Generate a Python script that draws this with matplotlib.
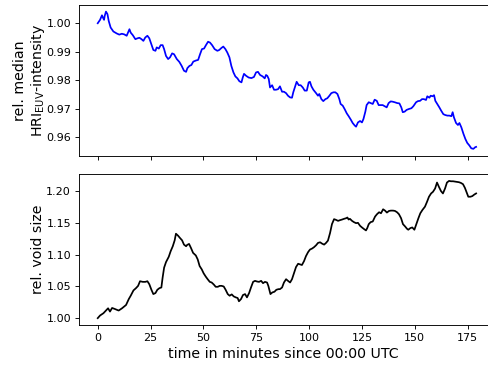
import matplotlib
matplotlib.use("Agg")
import matplotlib.pyplot as plt
from matplotlib.ticker import MultipleLocator

# Relative median HRI_EUV intensity (minutes since 00:00 UTC, value)
t_int = [0, 1.1, 2.0, 2.7, 3.0, 3.3, 3.9, 4.6, 5.2, 6.1, 7.4, 9.0, 10.2, 11.4, 12.5,
         13.7, 14.3, 15.0, 15.6, 16.6, 17.8, 18.8, 19.7, 20.7, 21.6, 22.5, 23.5, 24.4,
         25.4, 26.3, 27.3, 27.9, 28.9, 29.8, 30.7, 31.4, 32.3, 33.3, 34.2, 35.2, 36.1,
         37.4, 38.6, 39.7, 40.8, 41.8, 42.4, 43.4, 44.3, 45.2, 46.5, 47.5, 48.4, 49.3,
         50.3, 51.2, 52.2, 53.1, 54.1, 55.3, 56.6, 57.5, 58.5, 59.4, 60.4, 61.3, 62.3,
         63.2, 64.2, 65.1, 66.1, 67.0, 68.0, 68.6, 69.2, 70.2, 71.4, 72.7, 73.9, 74.9,
         75.8, 76.8, 78.0, 79.0, 79.6, 80.2, 80.9, 81.5, 82.5, 83.4, 84.3, 85.3, 86.2,
         87.2, 88.1, 89.1, 90.0, 91.0, 91.9, 92.5, 93.5, 94.1, 95.1, 96.0, 97.0, 97.9,
         98.9, 99.8, 100.4, 101.1, 102.0, 103.3, 104.2, 104.8, 105.8, 106.7, 107.7,
         108.6, 109.6, 110.5, 111.5, 112.4, 113.4, 114.3, 114.9, 115.9, 116.8, 117.8,
         118.7, 119.7, 120.6, 121.6, 122.2, 123.1, 124.1, 125.0, 125.7, 126.6, 127.2,
         128.2, 129.1, 130.1, 131.0, 132.0, 132.9, 133.8, 134.8, 135.7, 136.7, 137.6,
         138.6, 139.5, 140.5, 141.7, 142.7, 143.6, 144.3, 145.2, 146.1, 147.1, 148.4,
         149.3, 150.6, 151.5, 152.5, 153.4, 154.3, 155.3, 155.9, 156.9, 157.5, 158.4,
         159.1, 159.7, 160.7, 161.6, 162.5, 163.5, 164.4, 165.4, 166.3, 167.3, 167.9,
         168.5, 169.5, 170.4, 171.1, 172.0, 173.0, 173.9, 174.8, 175.8, 176.7, 177.7,
         178.6, 179.0]
intensity = [1.0000, 1.0012, 1.0028, 1.0016, 1.0012, 1.0026, 1.0041, 1.0032, 1.0008,
             0.9985, 0.9971, 0.9964, 0.9960, 0.9963, 0.9961, 0.9956, 0.9967, 0.9979,
             0.9967, 0.9958, 0.9944, 0.9947, 0.9949, 0.9944, 0.9938, 0.9950, 0.9956,
             0.9947, 0.9926, 0.9906, 0.9903, 0.9915, 0.9911, 0.9923, 0.9923, 0.9909,
             0.9885, 0.9874, 0.9880, 0.9894, 0.9891, 0.9874, 0.9864, 0.9850, 0.9833,
             0.9829, 0.9842, 0.9850, 0.9853, 0.9865, 0.9869, 0.9871, 0.9891, 0.9909,
             0.9911, 0.9923, 0.9935, 0.9932, 0.9923, 0.9909, 0.9903, 0.9906, 0.9913,
             0.9918, 0.9909, 0.9897, 0.9880, 0.9850, 0.9827, 0.9813, 0.9806, 0.9796,
             0.9792, 0.9809, 0.9822, 0.9815, 0.9809, 0.9807, 0.9811, 0.9827, 0.9829,
             0.9818, 0.9813, 0.9806, 0.9818, 0.9815, 0.9804, 0.9774, 0.9782, 0.9766,
             0.9766, 0.9768, 0.9778, 0.9759, 0.9759, 0.9754, 0.9745, 0.9739, 0.9738,
             0.9757, 0.9780, 0.9794, 0.9782, 0.9782, 0.9774, 0.9763, 0.9763, 0.9792,
             0.9794, 0.9778, 0.9766, 0.9754, 0.9745, 0.9751, 0.9733, 0.9726, 0.9733,
             0.9736, 0.9745, 0.9754, 0.9757, 0.9757, 0.9751, 0.9733, 0.9716, 0.9710,
             0.9698, 0.9683, 0.9673, 0.9661, 0.9649, 0.9640, 0.9636, 0.9651, 0.9656,
             0.9651, 0.9663, 0.9689, 0.9712, 0.9722, 0.9719, 0.9716, 0.9731, 0.9727,
             0.9712, 0.9712, 0.9712, 0.9708, 0.9704, 0.9719, 0.9725, 0.9724, 0.9722,
             0.9719, 0.9718, 0.9704, 0.9687, 0.9689, 0.9695, 0.9698, 0.9701, 0.9708,
             0.9722, 0.9726, 0.9727, 0.9733, 0.9733, 0.9730, 0.9743, 0.9738, 0.9745,
             0.9743, 0.9747, 0.9727, 0.9715, 0.9704, 0.9692, 0.9680, 0.9677, 0.9675,
             0.9675, 0.9673, 0.9687, 0.9669, 0.9649, 0.9642, 0.9649, 0.9634, 0.9611,
             0.9593, 0.9579, 0.9570, 0.9560, 0.9558, 0.9564, 0.9565]

# Relative void size (minutes since 00:00 UTC, value)
t_void = [0, 1.1, 2.7, 3.9, 4.9, 5.8, 6.8, 8.0, 9.9, 11.5, 13.4, 14.7, 15.6, 16.9,
          18.1, 19.1, 20.0, 21.3, 22.5, 23.5, 24.4, 25.4, 26.3, 27.3, 28.2, 29.2,
          30.1, 30.7, 31.4, 32.3, 33.6, 34.5, 35.5, 36.4, 37.0, 38.0, 38.9, 39.9,
          40.8, 41.8, 42.3, 43.2, 44.1, 45.1, 46.4, 47.3, 48.2, 49.2, 50.1, 51.1,
          52.0, 53.0, 53.9, 54.9, 55.8, 56.8, 57.7, 58.6, 59.6, 60.5, 61.5, 62.4,
          63.4, 64.3, 65.3, 66.2, 66.8, 67.8, 68.7, 69.7, 70.6, 71.6, 72.5, 73.5,
          74.4, 75.4, 76.3, 77.3, 78.2, 79.1, 80.1, 80.7, 81.7, 82.6, 83.6, 84.5,
          85.5, 86.2, 87.2, 88.1, 89.1, 90.0, 91.0, 91.9, 92.9, 93.8, 94.8, 95.7,
          96.6, 97.6, 98.5, 99.5, 100.4, 101.4, 102.3, 103.3, 104.2, 105.2, 106.1,
          107.1, 108.0, 108.9, 109.9, 110.8, 111.8, 112.7, 113.7, 114.6, 115.6,
          116.5, 117.5, 118.1, 118.7, 119.3, 120.3, 121.2, 122.2, 123.1, 124.1,
          125.0, 126.0, 126.9, 127.5, 128.2, 129.1, 130.1, 131.2, 132.1, 133.1,
          134.0, 135.0, 135.9, 136.8, 137.8, 138.7, 139.7, 140.6, 141.6, 142.5,
          143.5, 144.4, 145.4, 146.3, 146.9, 147.9, 148.8, 149.8, 150.7, 151.7,
          152.6, 153.6, 154.8, 155.8, 156.7, 157.7, 158.6, 159.6, 160.5, 161.4,
          162.4, 163.3, 164.3, 165.2, 166.2, 167.1, 168.1, 169.0, 170.0, 170.9,
          171.8, 172.8, 173.7, 174.7, 175.3, 176.3, 177.2, 178.2, 179.0]
void_size = [1.0000, 1.0042, 1.0078, 1.0120, 1.0156, 1.0104, 1.0161, 1.0146, 1.0120,
             1.0156, 1.0208, 1.0302, 1.0354, 1.0438, 1.0474, 1.0510, 1.0583, 1.0573,
             1.0573, 1.0583, 1.0536, 1.0448, 1.0380, 1.0396, 1.0448, 1.0474, 1.0484,
             1.0641, 1.0797, 1.0885, 1.0969, 1.1057, 1.1135, 1.1229, 1.1333, 1.1302,
             1.1266, 1.1229, 1.1161, 1.1135, 1.1156, 1.1172, 1.1109, 1.1031, 1.0990,
             1.0927, 1.0823, 1.0771, 1.0708, 1.0656, 1.0615, 1.0573, 1.0563, 1.0531,
             1.0495, 1.0495, 1.0510, 1.0510, 1.0500, 1.0448, 1.0380, 1.0354, 1.0375,
             1.0344, 1.0328, 1.0318, 1.0266, 1.0302, 1.0365, 1.0380, 1.0328, 1.0396,
             1.0484, 1.0573, 1.0589, 1.0578, 1.0573, 1.0589, 1.0552, 1.0573, 1.0563,
             1.0510, 1.0380, 1.0406, 1.0417, 1.0448, 1.0458, 1.0458, 1.0484, 1.0563,
             1.0615, 1.0589, 1.0563, 1.0615, 1.0719, 1.0807, 1.0859, 1.0849, 1.0839,
             1.0901, 1.0979, 1.1042, 1.1083, 1.1099, 1.1120, 1.1151, 1.1188, 1.1198,
             1.1177, 1.1161, 1.1188, 1.1224, 1.1344, 1.1484, 1.1563, 1.1552, 1.1536,
             1.1547, 1.1557, 1.1568, 1.1578, 1.1589, 1.1557, 1.1568, 1.1536, 1.1516,
             1.1500, 1.1505, 1.1458, 1.1432, 1.1406, 1.1385, 1.1422, 1.1484, 1.1516,
             1.1526, 1.1604, 1.1641, 1.1672, 1.1656, 1.1719, 1.1698, 1.1667, 1.1693,
             1.1698, 1.1698, 1.1693, 1.1672, 1.1641, 1.1578, 1.1484, 1.1448, 1.1411,
             1.1396, 1.1422, 1.1432, 1.1396, 1.1484, 1.1578, 1.1656, 1.1708, 1.1760,
             1.1839, 1.1917, 1.1969, 1.1995, 1.2047, 1.2141, 1.2073, 1.2005, 1.1969,
             1.2047, 1.2141, 1.2167, 1.2161, 1.2161, 1.2156, 1.2151, 1.2146, 1.2135,
             1.2115, 1.2057, 1.1969, 1.1917, 1.1917, 1.1927, 1.1953, 1.1969]

x_ticks = [0, 25, 50, 75, 100, 125, 150, 175]

TICK_FS = 8.0
LABEL_FS = 10.2
plt.rcParams.update({
    "axes.linewidth": 0.65,
    "xtick.major.size": 2.9,
    "ytick.major.size": 2.9,
    "xtick.major.width": 0.65,
    "ytick.major.width": 0.65,
    "xtick.major.pad": 2.9,
    "ytick.major.pad": 2.9,
})

fig = plt.figure(figsize=(4.89, 3.67), dpi=100)
ax1 = fig.add_axes([0.1616, 0.5757, 0.8354, 0.4114])
ax2 = fig.add_axes([0.1616, 0.1144, 0.8354, 0.4114], sharex=ax1)

ax1.plot(t_int, intensity, color="blue", lw=1.25)
ax1.set_ylabel("rel. median\nHRI$_\\mathrm{EUV}$-intensity", fontsize=LABEL_FS,
               labelpad=-1)
ax1.yaxis.set_major_locator(MultipleLocator(0.01))
ax1.tick_params(labelbottom=False, labelsize=TICK_FS)

ax2.plot(t_void, void_size, color="black", lw=1.25)
ax2.set_ylabel("rel. void size", fontsize=LABEL_FS, labelpad=1)
ax2.set_xlabel("time in minutes since 00:00 UTC", fontsize=LABEL_FS, labelpad=3)
ax2.yaxis.set_major_locator(MultipleLocator(0.05))
ax2.tick_params(labelsize=TICK_FS)

ax2.set_xticks(x_ticks)
ax2.set_xlim(-8.85, 184.4)

fig.savefig("out.png", dpi=100)
